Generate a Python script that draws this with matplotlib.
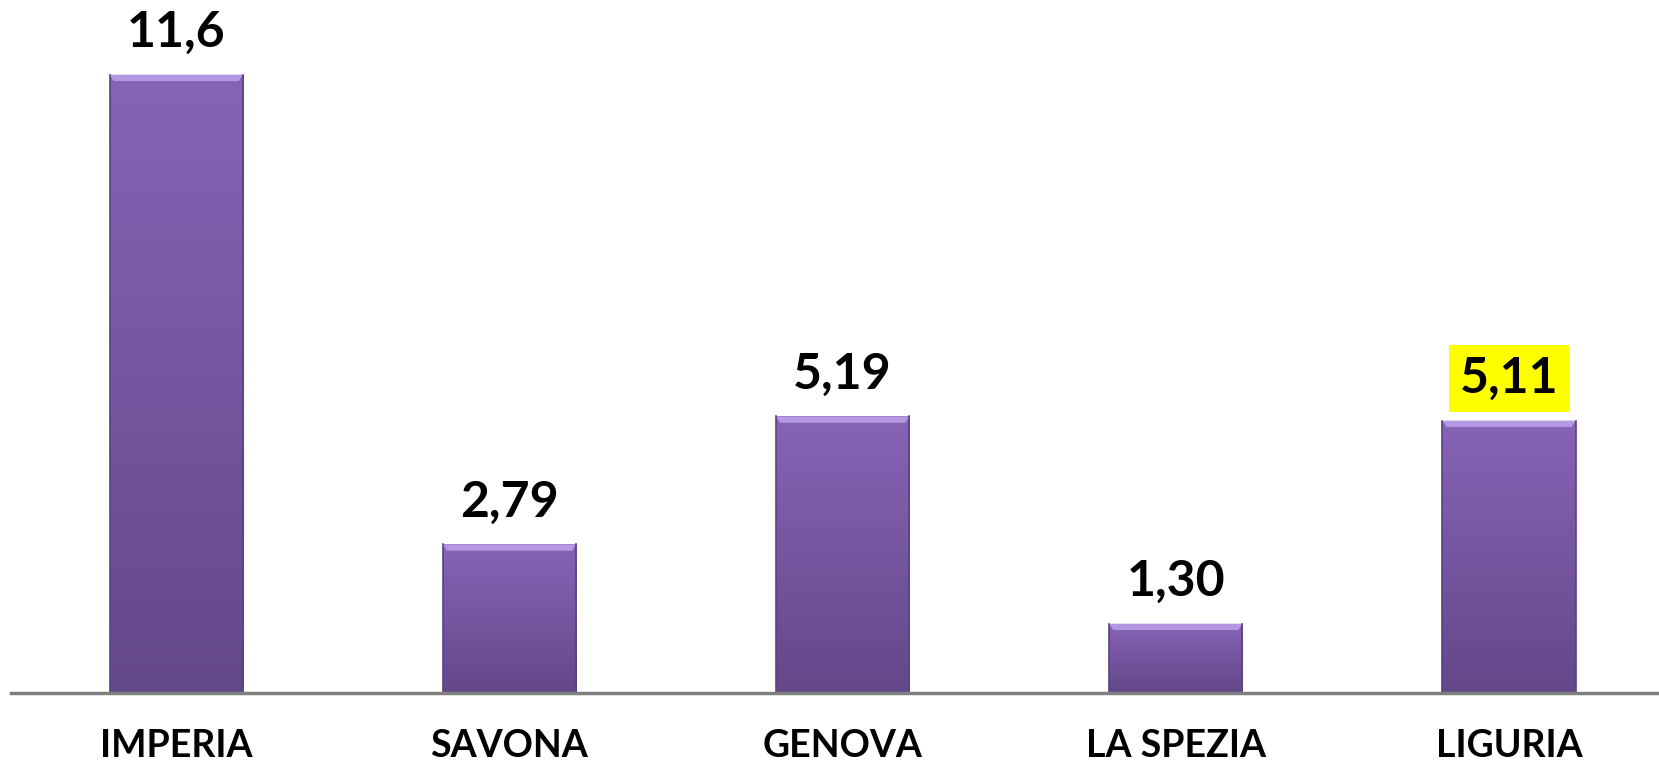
import numpy as np
import matplotlib
matplotlib.use('Agg')
from matplotlib import pyplot as plt

# data
provinces = ['IMPERIA', 'SAVONA', 'GENOVA', 'LA SPEZIA', 'LIGURIA']
values = [11.6, 2.79, 5.19, 1.30, 5.11]
value_labels = ['11,6', '2,79', '5,19', '1,30', '5,11']
highlight = 'LIGURIA'

plt.rcParams['font.family'] = ['Lato', 'DejaVu Sans']

W, H, DPI = 1659, 763, 100
fig = plt.figure(figsize=(W / DPI, H / DPI), dpi=DPI)
ax = fig.add_axes([10.6 / W, 70 / H, 1 - 10.6 / W, 1 - 70 / H])

x = np.arange(len(provinces))
bars = ax.bar(x, values, width=0.4, color='#7a5aa6', zorder=2)

# vertical gradient + bevel look on each bar
grad = np.linspace(0, 1, 256).reshape(-1, 1)
cmap = matplotlib.colors.LinearSegmentedColormap.from_list('purp', ['#634889', '#8763b6'])
for b in bars:
    x0, w, h = b.get_x(), b.get_width(), b.get_height()
    im = ax.imshow(grad, cmap=cmap, origin='lower', aspect='auto',
                   extent=(x0, x0 + w, 0, h), zorder=3)
    im.set_clip_path(b)
    # light top bevel
    ax.fill([x0, x0 + w, x0 + w - 0.012, x0 + 0.012],
            [h, h, h - 0.12, h - 0.12], color='#b397e0', zorder=4, lw=0)
    ax.plot([x0, x0], [0, h], color='#5a4280', lw=1.2, zorder=4)
    ax.plot([x0 + w, x0 + w], [0, h], color='#5a4280', lw=1.2, zorder=4)

for xi, v, lab, name in zip(x, values, value_labels, provinces):
    kw = {}
    if name == highlight:
        kw['bbox'] = dict(boxstyle='square,pad=0.22', fc='#ffff00', ec='none')
    ax.annotate(lab, (xi, v), xytext=(0, 14), textcoords='offset points',
                ha='center', va='bottom', fontsize=36, fontweight='bold',
                color='black', zorder=5, **kw)

ax.set_xlim(-0.497, 4.45)
ax.set_ylim(0, 13.0)
ax.axhline(0, color='#808080', lw=2.5, zorder=6, clip_on=False)

ax.set_xticks(x)
ax.set_xticklabels(provinces, fontsize=27, fontweight='bold')
ax.tick_params(axis='x', length=0, pad=26)
ax.set_yticks([])
for s in ax.spines.values():
    s.set_visible(False)

fig.savefig('out.png', dpi=DPI)
